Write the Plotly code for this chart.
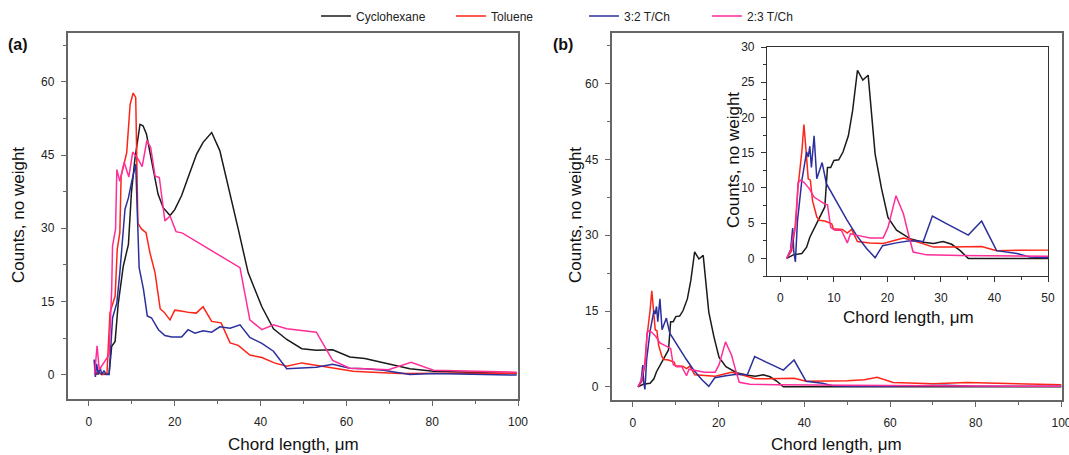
import plotly.graph_objects as go

# ---------------- data: panel (a) ----------------
cyc_a_x = [1.4, 2.5, 3.5, 4.7, 5.3, 6.1, 6.8, 8.0, 9.2, 9.9, 10.7, 11.9, 12.6, 13.4, 14.6, 16.1, 17.3, 18.9, 20.0, 21.6, 23.1, 25.1, 26.6, 28.6, 30.5, 32.5, 34.8, 37.1, 40.3, 43.0, 46.1, 49.6, 53.0, 56.8, 60.8, 64.3, 68.6, 74.8, 80.3, 90.0, 99.7]
cyc_a_y = [0, 0.3, 0, 0.2, 5.8, 6.8, 14.4, 22.2, 26.7, 37.3, 44.1, 51.3, 51.0, 49.3, 43.8, 37.0, 34.2, 32.6, 33.8, 36.7, 40.4, 45.2, 47.6, 49.6, 45.9, 38.7, 29.8, 20.9, 13.9, 9.4, 7.2, 5.3, 5.0, 5.1, 3.6, 3.3, 2.4, 1.2, 0.7, 0.4, 0.2]

tol_a_x = [1.4, 2.0, 3.0, 4.2, 4.9, 6.1, 6.6, 7.2, 7.5, 8.8, 9.6, 10.3, 10.9, 11.4, 12.3, 13.3, 14.2, 15.4, 16.6, 17.5, 18.9, 20.0, 21.8, 23.5, 25.0, 26.6, 28.6, 30.8, 32.9, 34.8, 37.5, 40.3, 43.2, 46.1, 49.6, 53.0, 56.9, 61.6, 66.0, 72.5, 85.0, 99.7]
tol_a_y = [0, 0.5, 0, 0.3, 12.7, 16.1, 25.7, 29.1, 40.7, 45.5, 55.4, 57.7, 56.8, 31.0, 29.8, 29.1, 25.0, 20.9, 13.5, 12.8, 11.2, 13.2, 13.0, 12.7, 12.6, 13.9, 10.9, 10.6, 6.5, 6.0, 4.0, 3.5, 2.4, 1.7, 2.4, 1.9, 1.4, 0.7, 0.5, 0.2, 0.3, 0.3]

blue_a_x = [1.2, 1.5, 1.8, 2.2, 2.6, 3.0, 3.5, 4.0, 4.7, 5.5, 6.5, 7.2, 8.4, 9.2, 9.9, 10.7, 10.9, 11.7, 12.7, 13.6, 14.6, 16.2, 17.7, 19.3, 21.6, 23.1, 24.7, 26.6, 28.6, 30.5, 32.9, 35.2, 37.5, 40.3, 43.0, 46.1, 49.6, 53.0, 56.8, 60.8, 64.3, 68.6, 74.8, 80.3, 99.7]
blue_a_y = [3.1, -0.5, 2.2, 0, 1.5, 0, 0.8, 0, 0, 11.6, 14.7, 20.9, 33.9, 36.2, 39.3, 42.4, 43.1, 21.9, 17.5, 12.0, 11.6, 9.2, 8.0, 7.7, 7.7, 9.2, 8.5, 9.0, 8.7, 9.8, 9.5, 10.2, 7.6, 6.4, 4.8, 1.2, 1.4, 1.5, 2.1, 1.3, 1.2, 0.9, 0.0, 0.2, -0.1]

pink_a_x = [1.3, 1.9, 2.4, 4.7, 5.3, 5.5, 6.2, 6.5, 7.2, 8.2, 9.3, 10.2, 11.5, 12.4, 13.5, 14.4, 15.4, 16.4, 17.7, 18.9, 20.3, 21.8, 35.2, 37.5, 40.3, 43.0, 46.1, 49.6, 53.0, 56.8, 60.8, 64.3, 69.8, 75.1, 80.3, 99.7]
pink_a_y = [0, 5.9, 1.0, 4.1, 17.5, 26.4, 29.8, 42.0, 39.6, 43.5, 40.5, 45.6, 44.1, 42.6, 48.0, 46.5, 40.7, 40.4, 31.5, 32.5, 29.3, 29.0, 21.9, 11.2, 9.2, 10.2, 9.4, 9.1, 8.7, 2.9, 1.3, 1.2, 1.0, 2.5, 0.9, 0.5]

# ---------------- data: panel (b) ----------------
cyc_b_x = [1.2, 2.4, 4.0, 4.9, 5.5, 6.4, 7.4, 8.3, 8.8, 9.4, 10.0, 10.9, 11.7, 12.7, 13.5, 14.4, 15.4, 16.4, 17.7, 18.9, 20.1, 21.7, 24.2, 26.7, 28.6, 30.4, 32.0, 33.6, 35.1, 50.0, 100.0]
cyc_b_y = [0, 0.5, 0.7, 1.6, 3.0, 4.4, 5.8, 7.3, 12.9, 12.9, 13.9, 14.0, 15.1, 17.4, 21.0, 26.7, 25.3, 26.0, 14.8, 9.9, 5.8, 4.0, 2.8, 2.3, 2.1, 2.4, 2.0, 1.1, 0, 0, 0]

tol_b_x = [1.2, 2.1, 2.7, 3.3, 4.0, 4.4, 4.9, 5.2, 5.6, 6.0, 6.8, 7.3, 8.3, 9.6, 9.9, 11.6, 12.5, 13.3, 14.4, 16.7, 19.2, 21.1, 23.0, 24.5, 28.6, 31.7, 34.8, 37.6, 40.4, 44.8, 50.0, 54.0, 57.0, 60.7, 70.0, 77.9, 83.6, 100.0]
tol_b_y = [0, 1.1, 4.0, 10.1, 15.1, 19.0, 14.3, 11.3, 11.1, 8.2, 5.9, 5.4, 5.3, 4.9, 4.2, 4.1, 3.6, 4.1, 2.4, 2.2, 2.1, 2.5, 2.9, 2.6, 1.6, 1.6, 1.6, 1.7, 1.1, 1.1, 1.2, 1.4, 1.9, 0.85, 0.6, 0.85, 0.7, 0.4]

blue_b_x = [1.2, 1.9, 2.3, 2.5, 2.8, 3.2, 4.0, 4.9, 5.2, 5.5, 5.8, 6.3, 6.8, 7.8, 8.6, 10.5, 12.4, 14.2, 16.1, 17.7, 19.1, 21.7, 24.2, 26.7, 28.4, 31.1, 35.1, 37.6, 40.4, 44.2, 46.6, 50.0, 60.0, 73.0, 80.0, 100.0]
blue_b_y = [0, 1.2, 4.3, 1.0, -0.5, 5.4, 11.0, 15.1, 14.4, 15.9, 12.9, 17.4, 11.3, 13.6, 10.6, 8.0, 5.5, 3.3, 1.4, 0.1, 1.8, 2.2, 2.5, 2.4, 6.0, 4.9, 3.3, 5.3, 1.1, 0.7, 0.2, 0.1, 0.1, 0.3, 0.1, 0.1]

pink_b_x = [1.2, 1.9, 2.5, 2.9, 3.3, 3.8, 4.4, 5.4, 6.3, 7.4, 8.3, 8.8, 9.4, 10.2, 11.4, 12.5, 13.1, 14.2, 16.7, 19.2, 20.1, 21.6, 23.0, 23.9, 24.8, 27.3, 33.6, 50.0, 100.0]
pink_b_y = [0, 1.2, 3.6, 4.7, 10.8, 11.1, 10.8, 9.9, 8.7, 8.2, 7.7, 7.6, 4.4, 4.0, 4.0, 2.2, 3.5, 3.3, 2.9, 2.9, 4.4, 8.9, 6.3, 3.5, 0.9, 0.5, 0.4, 0.3, 0.1]

names = ["Cyclohexane", "Toluene", "3:2 T/Ch", "2:3 T/Ch"]
colors = ["#1a1a1a", "#ff2418", "#2b2f9c", "#ff2d98"]

W, H = 1069, 455
FONT = "Liberation Sans, Arial, sans-serif"


def px_x(p):
    return p / W


def px_y(p):
    return 1 - p / H


fig = go.Figure()

series_a = [(cyc_a_x, cyc_a_y), (tol_a_x, tol_a_y), (blue_a_x, blue_a_y), (pink_a_x, pink_a_y)]
series_b = [(cyc_b_x, cyc_b_y), (tol_b_x, tol_b_y), (blue_b_x, blue_b_y), (pink_b_x, pink_b_y)]
legend_ids = ["legend", "legend2", "legend3", "legend4"]
legend_px = [316, 451, 584, 707]

for (x, y), n, c, lg in zip(series_a, names, colors, legend_ids):
    fig.add_trace(go.Scatter(x=x, y=y, mode="lines", name=n, line=dict(color=c, width=1.5),
                             xaxis="x", yaxis="y", showlegend=True, legend=lg))
for (x, y), n, c in zip(series_b, names, colors):
    fig.add_trace(go.Scatter(x=x, y=y, mode="lines", name=n, line=dict(color=c, width=1.5),
                             xaxis="x2", yaxis="y2", showlegend=False))
for (x, y), n, c in zip(series_b, names, colors):
    fig.add_trace(go.Scatter(x=x, y=y, mode="lines", name=n, line=dict(color=c, width=1.5),
                             xaxis="x3", yaxis="y3", showlegend=False))


def axis(domain, rng, dtick, minor_dtick, anchor, linecolor="#666", lw=1.5, standoff=2, **kw):
    d = dict(domain=domain, range=rng, dtick=dtick, tick0=0, anchor=anchor,
             showline=True, mirror=True, linecolor=linecolor, linewidth=lw,
             ticks="outside", ticklen=5, tickwidth=1, tickcolor=linecolor,
             minor=dict(dtick=minor_dtick, tick0=0, ticks="outside", ticklen=3, tickwidth=1, tickcolor=linecolor),
             showgrid=False, zeroline=False, automargin=False,
             ticklabelstandoff=standoff,
             tickfont=dict(family=FONT, size=12, color="#222"))
    d.update(kw)
    return d


layout = dict(
    width=W, height=H,
    margin=dict(l=0, r=0, t=0, b=0),
    paper_bgcolor="white", plot_bgcolor="white",
    xaxis=axis([px_x(67.5), px_x(518)], [-5, 100], 20, 10, "y", standoff=6),
    yaxis=axis([px_y(399), px_y(33)], [-5, 70], 15, 7.5, "x", standoff=4),
    xaxis2=axis([px_x(611.5), px_x(1061.5)], [-5, 100], 20, 10, "y2", standoff=6, ticklabeloverflow="allow"),
    yaxis2=axis([px_y(400), px_y(33)], [-2.6, 70], 15, 7.5, "x2", standoff=4),
    xaxis3=axis([px_x(767), px_x(1048)], [-2.5, 50], 10, 5, "y3", linecolor="#333", lw=1.2, standoff=5),
    yaxis3=axis([px_y(276), px_y(47)], [-2.5, 30], 5, 2.5, "x3", linecolor="#333", lw=1.2, standoff=4),
    showlegend=True,
)
for lg, lx in zip(legend_ids, legend_px):
    layout[lg] = dict(orientation="h", x=px_x(lx), y=px_y(16), xanchor="left", yanchor="middle",
                      font=dict(family=FONT, size=12, color="#222"), bgcolor="rgba(0,0,0,0)",
                      itemwidth=30)
fig.update_layout(**layout)

for t, x in [("<b>(a)</b>", 18), ("<b>(b)</b>", 563)]:
    fig.add_annotation(xref="paper", yref="paper", showarrow=False, x=px_x(x), y=px_y(45), text=t,
                       font=dict(family=FONT, size=16, color="#111"), xanchor="center", yanchor="middle")

titles = [
    ("Chord length, μm", 293, 444, 0),
    ("Chord length, μm", 836, 444, 0),
    ("Chord length, μm", 908, 317, 0),
    ("Counts, no weight", 18, 215, -90),
    ("Counts, no weight", 575, 215, -90),
    ("Counts, no weight", 733, 160, -90),
]
for t, x, y, ang in titles:
    fig.add_annotation(xref="paper", yref="paper", showarrow=False, x=px_x(x), y=px_y(y), text=t,
                       textangle=ang, font=dict(family=FONT, size=17, color="#111"),
                       xanchor="center", yanchor="middle")

fig.write_html("out.html")
